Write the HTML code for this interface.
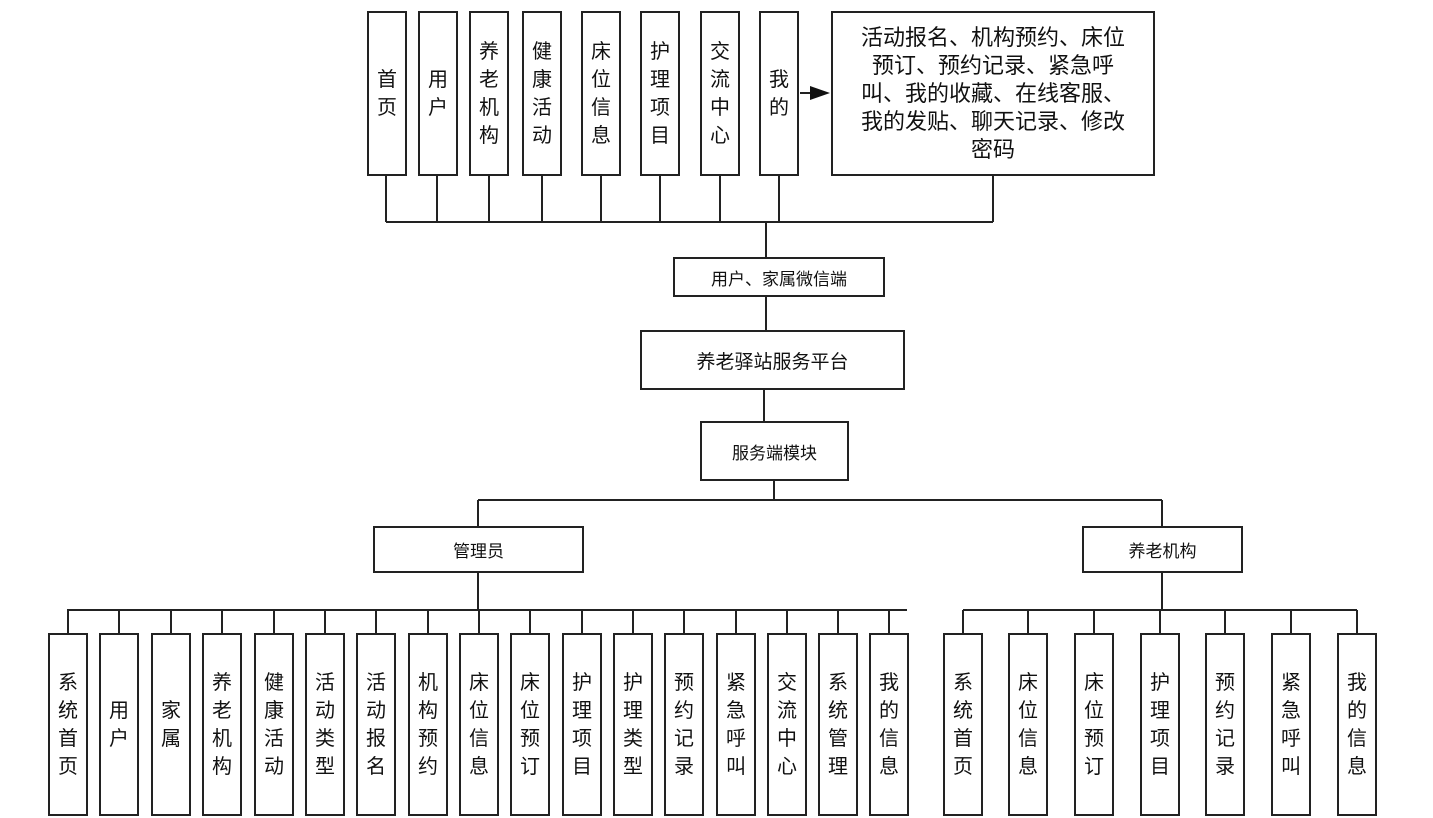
<!DOCTYPE html>
<html><head><meta charset="utf-8"><style>
body{margin:0;background:#fff;}
#c{position:relative;width:1433px;height:818px;overflow:hidden;font-family:"Liberation Sans","Noto Sans CJK SC",sans-serif;color:#111;}
.b{position:absolute;border:2px solid #222;box-sizing:border-box;background:#fff;display:flex;align-items:center;justify-content:center;text-align:center;}
.v{font-size:20px;line-height:28px;width:1.2em;word-break:break-all;}
.h{font-size:17px;}
svg{position:absolute;left:0;top:0;}
</style></head><body><div id="c">
<svg width="1433" height="818"><g stroke="#222" stroke-width="2" fill="none">
<path d="M386 176V222M437 176V222M489 176V222M542 176V222M601 176V222M660 176V222M720 176V222M779 176V222M993 176V222M386 222H993M766 222V257M766 296V330M764 389V421M774 480V500M478 500H1162M478 500V526M1162 500V526M478 572V610M1162 572V610M67 610H907M963 610H1357"/>
<path d="M800 93H812"/>
</g>
<polygon points="810,86 830,93 810,100" fill="#111"/>
<g stroke="#222" stroke-width="2">
<line x1="68" y1="610" x2="68" y2="633"/><line x1="119" y1="610" x2="119" y2="633"/><line x1="171" y1="610" x2="171" y2="633"/><line x1="222" y1="610" x2="222" y2="633"/><line x1="274" y1="610" x2="274" y2="633"/><line x1="325" y1="610" x2="325" y2="633"/><line x1="376" y1="610" x2="376" y2="633"/><line x1="428" y1="610" x2="428" y2="633"/><line x1="479" y1="610" x2="479" y2="633"/><line x1="530" y1="610" x2="530" y2="633"/><line x1="582" y1="610" x2="582" y2="633"/><line x1="633" y1="610" x2="633" y2="633"/><line x1="684" y1="610" x2="684" y2="633"/><line x1="736" y1="610" x2="736" y2="633"/><line x1="787" y1="610" x2="787" y2="633"/><line x1="838" y1="610" x2="838" y2="633"/><line x1="889" y1="610" x2="889" y2="633"/>
<line x1="963" y1="610" x2="963" y2="633"/><line x1="1028" y1="610" x2="1028" y2="633"/><line x1="1094" y1="610" x2="1094" y2="633"/><line x1="1160" y1="610" x2="1160" y2="633"/><line x1="1225" y1="610" x2="1225" y2="633"/><line x1="1291" y1="610" x2="1291" y2="633"/><line x1="1357" y1="610" x2="1357" y2="633"/>
</g></svg>

<div class="b" style="left:367px;top:11px;width:40px;height:165px"><div class="v">首页</div></div>
<div class="b" style="left:418px;top:11px;width:40px;height:165px"><div class="v">用户</div></div>
<div class="b" style="left:469px;top:11px;width:40px;height:165px"><div class="v">养老机构</div></div>
<div class="b" style="left:522px;top:11px;width:40px;height:165px"><div class="v">健康活动</div></div>
<div class="b" style="left:581px;top:11px;width:40px;height:165px"><div class="v">床位信息</div></div>
<div class="b" style="left:640px;top:11px;width:40px;height:165px"><div class="v">护理项目</div></div>
<div class="b" style="left:700px;top:11px;width:40px;height:165px"><div class="v">交流中心</div></div>
<div class="b" style="left:759px;top:11px;width:40px;height:165px"><div class="v">我的</div></div>
<div class="b" style="left:831px;top:11px;width:324px;height:165px;font-size:22px;line-height:28px;align-items:flex-start;padding-top:11px;white-space:nowrap">活动报名、机构预约、床位<br>预订、预约记录、紧急呼<br>叫、我的收藏、在线客服、<br>我的发贴、聊天记录、修改<br>密码</div>

<div class="b h" style="left:673px;top:257px;width:212px;height:40px">用户、家属微信端</div>
<div class="b" style="left:640px;top:330px;width:265px;height:60px;font-size:19px">养老驿站服务平台</div>
<div class="b h" style="left:700px;top:421px;width:149px;height:60px">服务端模块</div>
<div class="b h" style="left:373px;top:526px;width:211px;height:47px">管理员</div>
<div class="b h" style="left:1082px;top:526px;width:161px;height:47px">养老机构</div>

<div class="b" style="left:48px;top:633px;width:40px;height:183px"><div class="v">系统首页</div></div>
<div class="b" style="left:99px;top:633px;width:40px;height:183px"><div class="v">用户</div></div>
<div class="b" style="left:151px;top:633px;width:40px;height:183px"><div class="v">家属</div></div>
<div class="b" style="left:202px;top:633px;width:40px;height:183px"><div class="v">养老机构</div></div>
<div class="b" style="left:254px;top:633px;width:40px;height:183px"><div class="v">健康活动</div></div>
<div class="b" style="left:305px;top:633px;width:40px;height:183px"><div class="v">活动类型</div></div>
<div class="b" style="left:356px;top:633px;width:40px;height:183px"><div class="v">活动报名</div></div>
<div class="b" style="left:408px;top:633px;width:40px;height:183px"><div class="v">机构预约</div></div>
<div class="b" style="left:459px;top:633px;width:40px;height:183px"><div class="v">床位信息</div></div>
<div class="b" style="left:510px;top:633px;width:40px;height:183px"><div class="v">床位预订</div></div>
<div class="b" style="left:562px;top:633px;width:40px;height:183px"><div class="v">护理项目</div></div>
<div class="b" style="left:613px;top:633px;width:40px;height:183px"><div class="v">护理类型</div></div>
<div class="b" style="left:664px;top:633px;width:40px;height:183px"><div class="v">预约记录</div></div>
<div class="b" style="left:716px;top:633px;width:40px;height:183px"><div class="v">紧急呼叫</div></div>
<div class="b" style="left:767px;top:633px;width:40px;height:183px"><div class="v">交流中心</div></div>
<div class="b" style="left:818px;top:633px;width:40px;height:183px"><div class="v">系统管理</div></div>
<div class="b" style="left:869px;top:633px;width:40px;height:183px"><div class="v">我的信息</div></div>

<div class="b" style="left:943px;top:633px;width:40px;height:183px"><div class="v">系统首页</div></div>
<div class="b" style="left:1008px;top:633px;width:40px;height:183px"><div class="v">床位信息</div></div>
<div class="b" style="left:1074px;top:633px;width:40px;height:183px"><div class="v">床位预订</div></div>
<div class="b" style="left:1140px;top:633px;width:40px;height:183px"><div class="v">护理项目</div></div>
<div class="b" style="left:1205px;top:633px;width:40px;height:183px"><div class="v">预约记录</div></div>
<div class="b" style="left:1271px;top:633px;width:40px;height:183px"><div class="v">紧急呼叫</div></div>
<div class="b" style="left:1337px;top:633px;width:40px;height:183px"><div class="v">我的信息</div></div>
</div></body></html>
